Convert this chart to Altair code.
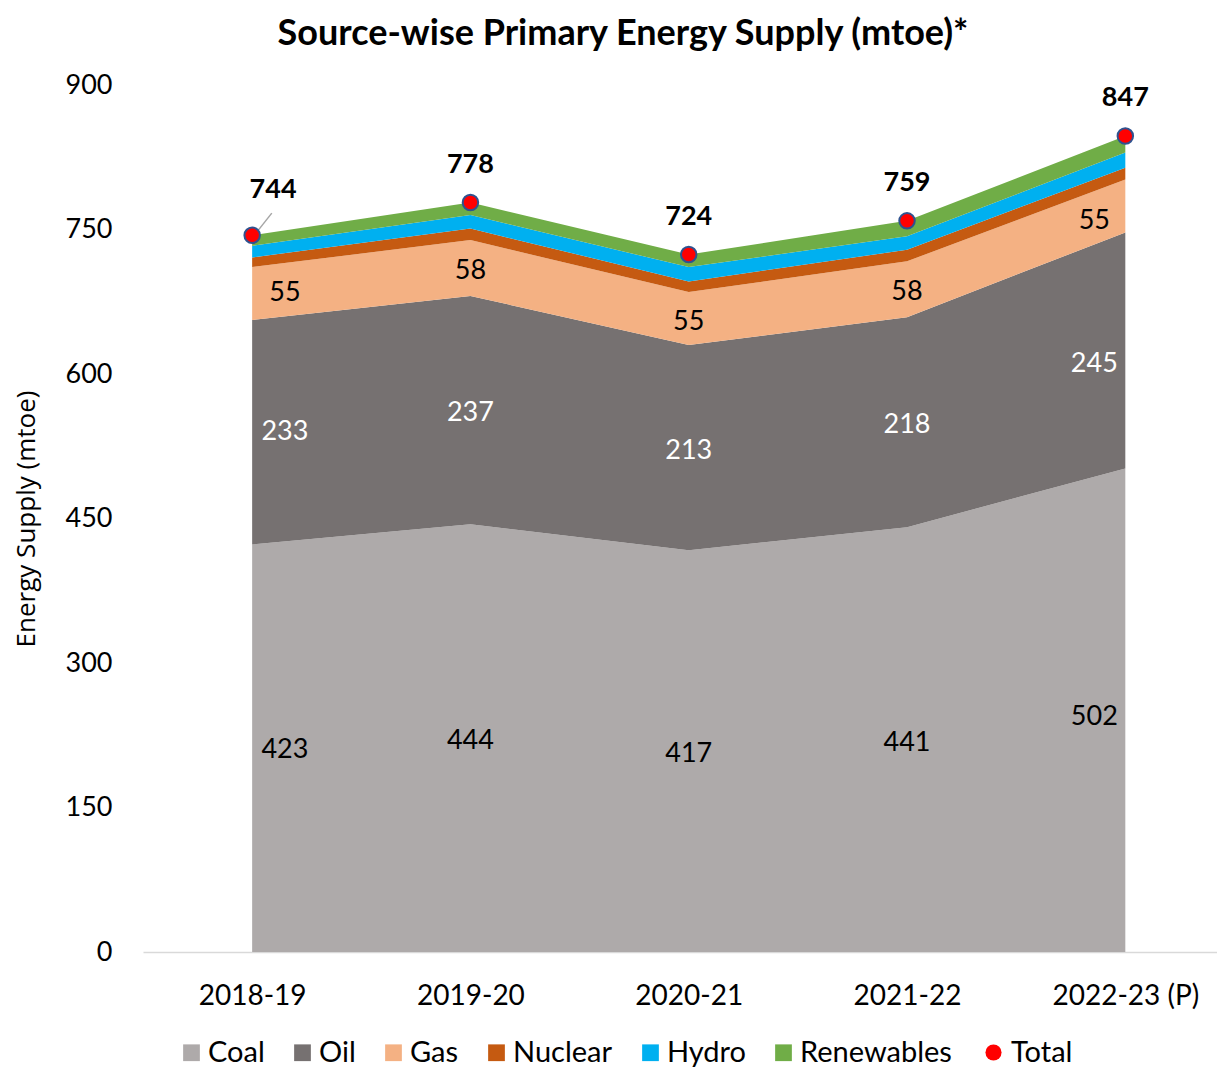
import json
import altair as alt
import pandas as pd

years = ["2018-19", "2019-20", "2020-21", "2021-22", "2022-23 (P)"]
coal = [423, 444, 417, 441, 502]
oil = [233, 237, 213, 218, 245]
gas = [55, 58, 55, 58, 55]
nuclear = [10, 12, 11, 12, 12]
hydro = [12, 14, 15, 14, 16]
renewables = [11, 13, 13, 16, 17]
total = [744, 778, 724, 759, 847]

sources = ["Coal", "Oil", "Gas", "Nuclear", "Hydro", "Renewables"]
source_values = [coal, oil, gas, nuclear, hydro, renewables]
labelled = ["Coal", "Oil", "Gas"]
colors = ["#AEAAAA", "#767171", "#F4B183", "#C55A11", "#00B0F0", "#70AD47"]
total_color = "#FF0000"
total_stroke = "#2F528F"
y_ticks = [0, 150, 300, 450, 600, 750, 900]

FONT = "Lato"
LAST = len(years) - 1

rows = []
for k, (s, vals) in enumerate(zip(sources, source_values)):
    for i, (yr, v) in enumerate(zip(years, vals)):
        rows.append({"year": yr, "idx": i, "source": s, "ord": k, "value": v,
                     "lab": s in labelled})
df = pd.DataFrame(rows)
tdf = pd.DataFrame({"year": years, "idx": list(range(len(years))),
                    "source": ["Total"] * len(years), "value": total})

label_expr = json.dumps(years) + "[datum.value]"

x_enc = alt.X("idx:Q",
              scale=alt.Scale(domain=[-0.5, LAST + 0.42], nice=False, zero=False),
              axis=alt.Axis(values=list(range(len(years))), labelExpr=label_expr, title=None,
                            ticks=False, grid=False, domainColor="#D9D9D9", domainWidth=1.5,
                            labelFont=FONT, labelFontSize=28, labelColor="black",
                            labelPadding=30))
y_scale = alt.Scale(domain=[0, 900], nice=False)

color_enc = alt.Color(
    "source:N",
    scale=alt.Scale(domain=sources, range=colors),
    legend=alt.Legend(orient="none", legendX=34, legendY=953, direction="horizontal",
                      title=None, labelFont=FONT, labelFontSize=29, labelColor="black",
                      symbolSize=280, symbolType="square", labelOffset=2,
                      columnPadding=23, labelLimit=400, symbolStrokeWidth=0),
)

area = alt.Chart(df).mark_area(opacity=1).encode(
    x=x_enc,
    y=alt.Y("value:Q", stack="zero", scale=y_scale,
            axis=alt.Axis(values=y_ticks, title="Energy Supply (mtoe)", grid=False,
                          domain=False, ticks=False, labelFont=FONT, labelFontSize=27,
                          labelColor="black", labelPadding=31, titleFont="Open Sans",
                          titleFontSize=26, titleFontWeight="normal", titleColor="black",
                          titlePadding=26)),
    color=color_enc,
    order=alt.Order("ord:Q", sort="ascending"),
)

labels = alt.Chart(df).transform_stack(
    stack="value", groupby=["idx"], as_=["v0", "v1"],
    sort=[alt.SortField("ord", "ascending")]
).transform_filter(
    "datum.lab"
).transform_calculate(
    mid="(datum.v0 + datum.v1) / 2",
).transform_window(
    nxt="lead(mid)", prv="lag(mid)", groupby=["source"], sort=[alt.SortField("idx")]
).transform_calculate(
    lx=f"datum.idx + (datum.idx == 0 ? 0.15 : (datum.idx == {LAST} ? -0.142 : 0))",
    ly=f"datum.idx == 0 ? datum.mid + 0.15 * (datum.nxt - datum.mid) : "
       f"(datum.idx == {LAST} ? datum.mid + 0.142 * (datum.prv - datum.mid) : datum.mid)",
).mark_text(font=FONT, fontSize=27, baseline="middle", align="center", dy=3).encode(
    x=alt.X("lx:Q"),
    y=alt.Y("ly:Q"),
    text=alt.Text("value:Q"),
    color=alt.condition("datum.source == 'Oil'", alt.value("white"), alt.value("black")),
)

leader = alt.Chart(tdf).transform_filter("datum.idx == 0").transform_calculate(
    xa="datum.idx + 0.022", xb="datum.idx + 0.09",
    ya="datum.value + 3.5", yb="datum.value + 23",
).mark_rule(color="#A6A6A6", strokeWidth=1.5).encode(
    x="xa:Q", x2="xb:Q", y="ya:Q", y2="yb:Q",
)

points = alt.Chart(tdf).mark_point(filled=True, size=240, opacity=1, color=total_color,
                                   fill=total_color, stroke=total_stroke,
                                   strokeWidth=2).encode(
    x=alt.X("idx:Q"),
    y=alt.Y("value:Q"),
    shape=alt.Shape("source:N", scale=alt.Scale(domain=["Total"], range=["circle"]),
                    legend=alt.Legend(orient="none", legendX=836, legendY=953, title=None,
                                      labelFont=FONT, labelFontSize=29, labelColor="black",
                                      symbolSize=260, symbolFillColor=total_color,
                                      symbolStrokeColor=total_stroke, symbolStrokeWidth=2,
                                      labelOffset=3)),
)

tlabels = alt.Chart(tdf).transform_calculate(
    lx="datum.idx + (datum.idx == 0 ? 0.096 : 0)",
    ly="datum.value + (datum.idx == 0 ? 8 : 0)",
).mark_text(font=FONT, fontSize=27, fontWeight="bold", color="black", dy=-38,
            baseline="middle", align="center").encode(
    x=alt.X("lx:Q"),
    y=alt.Y("ly:Q"),
    text=alt.Text("value:Q"),
)

chart = alt.layer(area, labels, leader, points, tlabels).resolve_legend(
    color="independent", shape="independent"
).properties(
    width=1074, height=867,
    padding={"left": 5, "right": 0, "top": 8, "bottom": 0},
    title=alt.TitleParams("Source-wise Primary Energy Supply (mtoe)*", font=FONT,
                          fontSize=36, fontWeight="bold", color="black", anchor="middle",
                          offset=18, dx=-57),
    background="white",
).configure_view(stroke=None)

chart.save("out.html", embed_options={"renderer": "svg", "actions": False})
